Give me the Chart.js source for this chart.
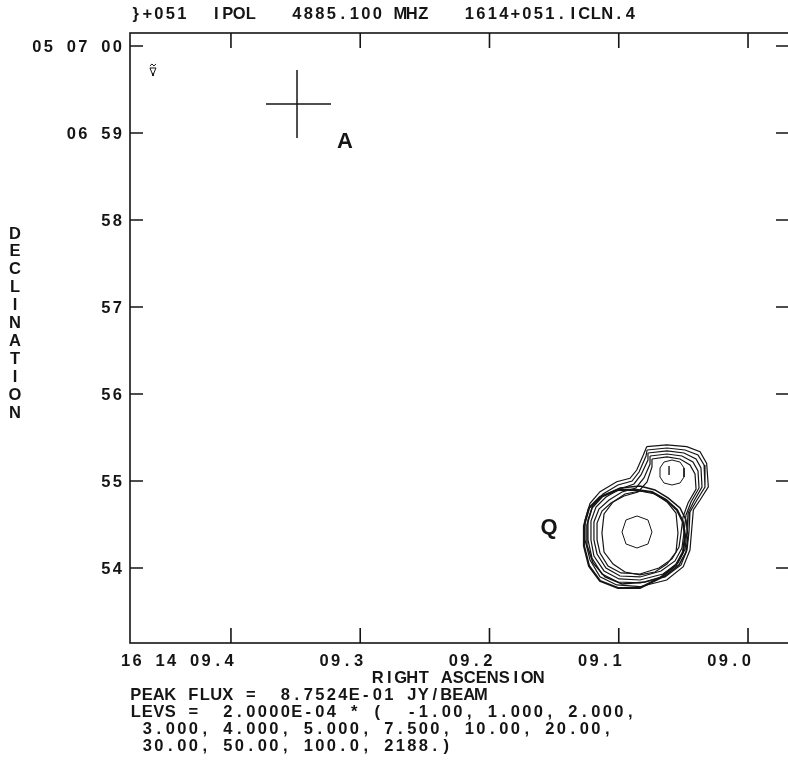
<!DOCTYPE html>
<html>
<head>
<meta charset="utf-8">
<script src="https://cdn.jsdelivr.net/npm/chart.js"></script>
<style>
  html, body { margin: 0; padding: 0; background: #fff; }
  #wrap { width: 788px; height: 763px; overflow: hidden; }
</style>
</head>
<body>
<div id="wrap"><canvas id="chart" width="792" height="763"></canvas></div>
<script>
// RA in seconds of 16h14m, Dec in arcsec of +05d06m
const raTicks = [9.4, 9.3, 9.2, 9.1, 9.0];
const raLabels = ['16 14 09.4', '09.3', '09.2', '09.1', '09.0'];
const decTicks = [60, 59, 58, 57, 56, 55, 54];
const decLabels = ['05 07 00', '06 59', '58', '57', '56', '55', '54'];

const titleText = '}+051  IPOL   4885.100 MHZ   1614+051.ICLN.4';
const footerLines = [
    'PEAK FLUX =  8.7524E-01 JY/BEAM',
    'LEVS =  2.0000E-04 * (  -1.00, 1.000, 2.000,',
    ' 3.000, 4.000, 5.000, 7.500, 10.00, 20.00,',
    ' 30.00, 50.00, 100.0, 2188.)'
];

// position cross and source names
const crossH = [[9.3729, 59.333], [9.3226, 59.333]];
const crossV = [[9.3489, 59.724], [9.3489, 58.943]];
const sourceNames = [
    { text: 'A', ra: 9.3118, dec: 58.90 },
    { text: 'Q', ra: 9.1540, dec: 54.46 }
];

// contours (RA s, Dec ")
const contour1 = [[9.0784,55.394],[9.0629,55.414],[9.0474,55.394],[9.0371,55.337],[9.0320,55.203],[9.0307,54.934],[9.0371,54.782],[9.0423,54.667],[9.0436,54.437],[9.0449,54.207],[9.0501,54.015],[9.0629,53.862],[9.0836,53.785],[9.1016,53.805],[9.1145,53.900],[9.1222,54.092],[9.1261,54.322],[9.1261,54.552],[9.1222,54.744],[9.1145,54.877],[9.1016,54.992],[9.0913,55.031],[9.0861,55.126],[9.0810,55.299]];
const contour2 = [[9.0781,55.356],[9.0627,55.379],[9.0487,55.356],[9.0387,55.299],[9.0340,55.184],[9.0333,54.931],[9.0395,54.782],[9.0449,54.644],[9.0456,54.425],[9.0472,54.207],[9.0518,54.035],[9.0642,53.897],[9.0836,53.828],[9.1006,53.839],[9.1130,53.931],[9.1207,54.115],[9.1238,54.322],[9.1238,54.552],[9.1199,54.724],[9.1122,54.851],[9.1006,54.954],[9.0897,55.000],[9.0843,55.103],[9.0789,55.287]];
const contour3 = [[9.0774,55.322],[9.0627,55.345],[9.0495,55.322],[9.0402,55.253],[9.0364,55.149],[9.0356,54.931],[9.0418,54.770],[9.0464,54.632],[9.0472,54.425],[9.0487,54.218],[9.0542,54.058],[9.0658,53.931],[9.0836,53.862],[9.0998,53.874],[9.1114,53.966],[9.1192,54.138],[9.1215,54.322],[9.1215,54.540],[9.1176,54.701],[9.1099,54.816],[9.0990,54.908],[9.0882,54.966],[9.0828,55.069],[9.0774,55.241]];
const contour4 = [[9.0758,55.287],[9.0627,55.310],[9.0511,55.287],[9.0426,55.218],[9.0387,55.115],[9.0379,54.920],[9.0441,54.759],[9.0480,54.609],[9.0495,54.414],[9.0511,54.230],[9.0565,54.081],[9.0673,53.966],[9.0836,53.897],[9.0990,53.908],[9.1099,54.000],[9.1168,54.161],[9.1192,54.322],[9.1192,54.529],[9.1153,54.678],[9.1075,54.782],[9.0975,54.874],[9.0867,54.920],[9.0805,55.035],[9.0758,55.195]];
const contour5 = [[9.0743,55.253],[9.0627,55.276],[9.0526,55.253],[9.0449,55.184],[9.0410,55.081],[9.0402,54.908],[9.0464,54.747],[9.0503,54.586],[9.0518,54.402],[9.0534,54.241],[9.0588,54.104],[9.0689,54.000],[9.0836,53.931],[9.0983,53.943],[9.1083,54.023],[9.1145,54.172],[9.1168,54.322],[9.1168,54.517],[9.1130,54.655],[9.1060,54.747],[9.0959,54.828],[9.0851,54.874],[9.0781,54.989],[9.0743,55.161]];
const mainRing1 = [[9.0836,54.943],[9.0720,54.897],[9.0619,54.805],[9.0526,54.690],[9.0480,54.552],[9.0464,54.379],[9.0480,54.184],[9.0534,54.035],[9.0642,53.908],[9.0797,53.839],[9.0975,53.816],[9.1106,53.897],[9.1199,54.058],[9.1246,54.264],[9.1246,54.494],[9.1207,54.690],[9.1122,54.828],[9.0990,54.920]];
const mainRing2 = [[9.0867,54.897],[9.0743,54.874],[9.0634,54.782],[9.0549,54.667],[9.0503,54.529],[9.0487,54.368],[9.0503,54.184],[9.0557,54.035],[9.0681,53.885],[9.0836,53.770],[9.1006,53.770],[9.1145,53.851],[9.1230,54.023],[9.1269,54.253],[9.1269,54.483],[9.1230,54.690],[9.1145,54.816],[9.1006,54.897]];
const mainRing3 = [[9.0836,54.885],[9.0720,54.851],[9.0627,54.759],[9.0557,54.632],[9.0542,54.402],[9.0557,54.184],[9.0627,54.046],[9.0720,53.954],[9.0836,53.920],[9.0952,53.954],[9.1044,54.046],[9.1114,54.184],[9.1130,54.402],[9.1114,54.621],[9.1044,54.759],[9.0952,54.851]];
const mainPeak = [[9.0859,54.598],[9.0774,54.552],[9.0743,54.414],[9.0774,54.276],[9.0859,54.230],[9.0944,54.276],[9.0975,54.414],[9.0944,54.552]];
const secondPeak = [[9.0588,55.241],[9.0526,55.218],[9.0495,55.149],[9.0495,55.046],[9.0526,54.977],[9.0588,54.954],[9.0650,54.977],[9.0681,55.046],[9.0681,55.149],[9.0650,55.218]];
const secondTick = [[9.0611,55.172],[9.0611,55.069]];
const blip = [[9.4627,59.747],[9.4580,59.747],[9.4596,59.690],[9.4603,59.655],[9.4611,59.690],[9.4627,59.747]];
const blipTop = [[9.4627,59.770],[9.4611,59.793],[9.4596,59.770],[9.4580,59.793]];

const toXY = (pts) => pts.map(p => ({ x: p[0], y: p[1] }));
const closed = (pts) => toXY(pts.concat([pts[0]]));

const lineSet = (data, width) => ({
    data: data,
    showLine: true,
    borderColor: '#151515',
    borderWidth: width,
    pointRadius: 0,
    tension: 0
});

// plotter-style text: fixed cell per character
const CELL = 11.5;
function drawMono(ctx, text, x, y, align) {
    let x0 = x;
    if (align === 'right') x0 = x - text.length * CELL;
    text.split('').forEach((c, i) => {
        if (c !== ' ') ctx.fillText(c, x0 + i * CELL + CELL / 2, y);
    });
}

const mapText = {
    id: 'mapText',
    afterDraw(chart) {
        const { ctx, chartArea: { left, right, top, bottom }, scales: { x, y } } = chart;
        ctx.save();
        ctx.strokeStyle = '#151515';
        ctx.lineWidth = 1.6;
        ctx.strokeRect(left, top, right - left, bottom - top);

        ctx.beginPath();
        raTicks.forEach(v => {
            const px = x.getPixelForValue(v);
            ctx.moveTo(px, bottom); ctx.lineTo(px, bottom - 15);
            ctx.moveTo(px, top); ctx.lineTo(px, top + 15);
        });
        decTicks.forEach(v => {
            const py = y.getPixelForValue(v);
            ctx.moveTo(left, py); ctx.lineTo(left + 13, py);
            ctx.moveTo(right, py); ctx.lineTo(right - 13, py);
        });
        ctx.stroke();

        ctx.fillStyle = '#151515';
        ctx.font = 'bold 16.5px "Liberation Sans", Arial, sans-serif';
        ctx.textAlign = 'center';
        ctx.textBaseline = 'alphabetic';

        raLabels.forEach((t, i) => drawMono(ctx, t, x.getPixelForValue(raTicks[i]) + 4, 666, 'right'));
        decLabels.forEach((t, i) => drawMono(ctx, t, left - 7, y.getPixelForValue(decTicks[i]) + 6, 'right'));

        drawMono(ctx, titleText, left, 19, 'left');
        drawMono(ctx, 'RIGHT ASCENSION', 372, 683, 'left');
        footerLines.forEach((t, i) => drawMono(ctx, t, left, 700 + i * 17, 'left'));

        ctx.textBaseline = 'middle';
        'DECLINATION'.split('').forEach((c, i) => ctx.fillText(c, 15, 234 + i * 17.9));

        ctx.font = 'bold 22px "Liberation Sans", Arial, sans-serif';
        sourceNames.forEach(s => ctx.fillText(s.text, x.getPixelForValue(s.ra), y.getPixelForValue(s.dec)));
        ctx.restore();
    }
};

const datasets = [
    lineSet(closed(contour1), 1.2),
    lineSet(closed(contour2), 1.2),
    lineSet(closed(contour3), 1.2),
    lineSet(closed(contour4), 1.2),
    lineSet(closed(contour5), 1.2),
    lineSet(closed(mainRing1), 1.5),
    lineSet(closed(mainRing2), 2.2),
    lineSet(closed(mainRing3), 1.2),
    lineSet(closed(mainPeak), 1),
    lineSet(closed(secondPeak), 1),
    lineSet(toXY(secondTick), 1.4),
    lineSet(toXY(blip), 1),
    lineSet(toXY(blipTop), 1),
    lineSet(toXY(crossH), 1.5),
    lineSet(toXY(crossV), 1.5)
];

const ctx = document.getElementById('chart').getContext('2d');
new Chart(ctx, {
    type: 'scatter',
    data: { datasets: datasets },
    options: {
        responsive: false,
        animation: false,
        devicePixelRatio: 1,
        layout: { padding: { left: 130, top: 33, right: 3, bottom: 120 } },
        plugins: { legend: { display: false }, tooltip: { enabled: false } },
        scales: {
            x: { type: 'linear', display: false, reverse: true, min: 8.9683, max: 9.4781 },
            y: { type: 'linear', display: false, min: 53.138, max: 60.149 }
        }
    },
    plugins: [mapText]
});
</script>
</body>
</html>
